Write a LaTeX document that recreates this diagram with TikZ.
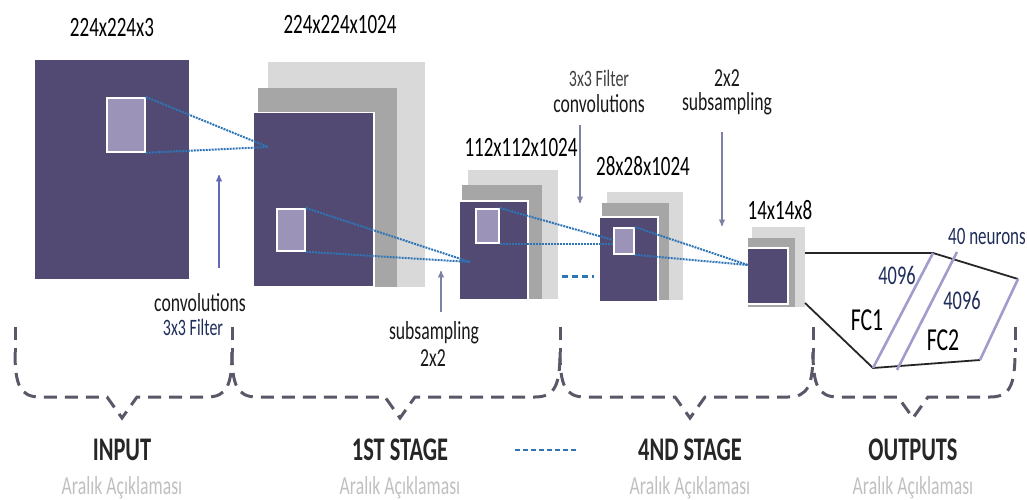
\documentclass[tikz,border=0pt]{standalone}
\usepackage{fontspec}
\setmainfont{Carlito}[FakeStretch=0.68]
\usetikzlibrary{positioning,arrows}
\definecolor{mappurple}{RGB}{82,74,114}
\definecolor{winpurple}{RGB}{156,148,184}
\definecolor{backgray}{RGB}{217,217,217}
\definecolor{midgray}{RGB}{166,166,166}
\definecolor{dotblue}{RGB}{46,117,182}
\definecolor{fcpurple}{RGB}{160,156,204}
\definecolor{bracegray}{RGB}{88,88,104}
\definecolor{subgray}{RGB}{192,192,192}
\definecolor{navytext}{RGB}{31,45,90}
\definecolor{arrowgray}{RGB}{125,130,165}

\begin{document}
\begin{tikzpicture}[x=1pt,y=-1pt,
% Feature map styles
fmap/.style={fill=mappurple,draw=white,line width=1.5pt,inner sep=0pt,
	anchor=north west},
win/.style={fill=winpurple,draw=white,line width=1.8pt,inner sep=0pt,
	anchor=north west},
backmap/.style={fill=backgray,inner sep=0pt,anchor=north west},
midmap/.style={fill=midgray,inner sep=0pt,anchor=north west},
% Label styles
dim/.style={font=\fontsize{28}{30}\selectfont,text=black},
note/.style={font=\fontsize{26}{28}\selectfont,text=black!90},
filt/.style={font=\fontsize{23.5}{26}\selectfont,text=navytext},
stage/.style={font=\bfseries\fontsize{33}{35}\selectfont,text=black!85},
sub/.style={font=\fontsize{26}{28}\selectfont,text=subgray},
% Line styles
link/.style={dotblue,line width=2pt,densely dotted},
pointer/.style={arrowgray,line width=1.3pt,-stealth'},
brace/.style={bracegray,line width=3pt,dash pattern=on 13pt off 8pt},
fcline/.style={black!85,line width=1.8pt,line join=round},
fcedge/.style={fcpurple,line width=2.6pt},
]
\useasboundingbox (0,0) rectangle (1027,500);

%% Input
\node (in_main) [fmap,draw=none,minimum width=154pt,minimum height=219pt] at (34,59) {};
\node (in_win) [win,minimum width=38pt,minimum height=54pt] at (106,97) {};
\node (in_dim) [dim] at (112,28) {224x224x3};

%% 1st stage
\node (s1_back) [backmap,minimum width=157pt,minimum height=225pt] at (268,62) {};
\node (s1_mid) [midmap,minimum width=139pt,minimum height=199pt] at (258,88) {};
\node (s1_front) [fmap,minimum width=121pt,minimum height=174pt] at (252,112) {};
\node (s1_win) [win,minimum width=28pt,minimum height=42pt] at (276,208) {};
\node (s1_dim) [dim] at (340,25) {224x224x1024};

%% 2nd map
\node (s2_back) [backmap,minimum width=90pt,minimum height=129pt] at (468,170) {};
\node (s2_mid) [midmap,minimum width=80pt,minimum height=114pt] at (462,185) {};
\node (s2_front) [fmap,minimum width=69pt,minimum height=99pt] at (458,200) {};
\node (s2_win) [win,minimum width=23pt,minimum height=34pt] at (475,208) {};
\node (s2_dim) [dim] at (521,148) {112x112x1024};

%% 4th stage
\node (s3_back) [backmap,minimum width=76pt,minimum height=108pt] at (607,192) {};
\node (s3_mid) [midmap,minimum width=67pt,minimum height=97pt] at (602,203) {};
\node (s3_front) [fmap,minimum width=59pt,minimum height=85pt] at (598,216) {};
\node (s3_win) [win,minimum width=20pt,minimum height=26pt] at (613,227) {};
\node (s3_dim) [dim] at (643,166) {28x28x1024};

\node (s4_back) [backmap,minimum width=53pt,minimum height=80pt] at (752,227) {};
\node (s4_mid) [midmap,minimum width=47pt,minimum height=69pt] at (748,238) {};
\node (s4_front) [fmap,minimum width=41pt,minimum height=56pt] at (746,247) {};
\node (s4_dim) [dim] at (780,210) {14x14x8};

%% Receptive field links
\coordinate (p1) at (268,147);
\coordinate (p2) at (470,262);
\coordinate (p3) at (613,240);
\coordinate (p4) at (748,265);
\draw [link] (in_win.north east) -- (p1);
\draw [link] (in_win.south east) -- (p1);
\draw [link] (s1_win.north east) -- (p2);
\draw [link] (s1_win.south east) -- (p2);
\draw [link] (s2_win.north east) -- (p3);
\draw [link] (s2_win.south east) -- (s3_win.south west |- s2_win.south east);
\draw [link] (s3_win.north east) -- (p4);
\draw [link] (s3_win.south east) -- (p4);
\coordinate (gap_a) at (562,276);
\coordinate (gap_b) at (594,276);
\draw [dotblue,line width=3pt,dash pattern=on 6pt off 4pt] (gap_a) -- (gap_b);

%% Operation notes
\node (conv_a) [note] at (200,303) {convolutions};
\node (filt_a) [filt] at (193,327) {3x3 Filter};
\coordinate (ar1_s) at (219,268);
\coordinate (ar1_e) at (219,175);
\draw [pointer,color=arrowgray!80!blue] (ar1_s) -- (ar1_e);

\node (samp_a) [note] at (434,333) {subsampling};
\node (size_a) [note] at (433,358) {2x2};
\coordinate (ar2_s) at (441,312);
\coordinate (ar2_e) at (441,271);
\draw [pointer] (ar2_s) -- (ar2_e);

\node (filt_b) [filt,text=black!75] at (599,78) {3x3 Filter};
\node (conv_b) [note] at (599,104) {convolutions};
\coordinate (ar3_s) at (580,125);
\coordinate (ar3_e) at (580,203);
\draw [pointer] (ar3_s) -- (ar3_e);

\node (size_b) [note] at (727,78) {2x2};
\node (samp_b) [note] at (727,104) {subsampling};
\coordinate (ar4_s) at (722,132);
\coordinate (ar4_e) at (722,226);
\draw [pointer] (ar4_s) -- (ar4_e);

%% Fully connected part
\coordinate (fc_top) at (805,253);
\coordinate (fc_bot) at (805,303);
\coordinate (fc_a) at (933,253);
\coordinate (fc_b) at (1018,279);
\coordinate (fc_c) at (980,360);
\coordinate (fc_d) at (873,368);
\coordinate (fc_e) at (897,370);
\coordinate (fc_f) at (957,252);
\draw [fcline] (fc_top) -- (fc_a) -- (fc_b);
\draw [fcline] (fc_c) -- (fc_d) -- (fc_bot);
\draw [fcedge] (fc_b) -- (fc_c);
\draw [fcedge] (fc_d) -- (fc_a);
\draw [fcedge] (fc_e) -- (fc_f);
\node (fc1_n) [filt,font=\fontsize{27}{30}\selectfont] at (897,275) {4096};
\node (fc1) [dim,font=\fontsize{32}{34}\selectfont] at (867,320) {FC1};
\node (fc2_n) [filt,font=\fontsize{27}{30}\selectfont] at (962,300) {4096};
\node (fc2) [dim,font=\fontsize{32}{34}\selectfont] at (943,340) {FC2};
\node (out_n) [filt,font=\fontsize{25}{27}\selectfont] at (987,236) {40 neurons};

%% Stage braces
\draw [brace] (15,327) -- (15,352);
\draw [brace] (232,327) -- (232,352);
\draw [brace] (560,327) -- (560,352);
\draw [brace] (813,327) -- (813,352);
\draw [brace] (1015,327) -- (1015,352);
\draw [brace] (15,352) .. controls (15,385) and (20,397) .. (40,397) -- (107,397)
	-- (122,418) -- (137,397) -- (207,397) .. controls (227,397) and (232,385) .. (232,352);
\draw [brace] (232,352) .. controls (232,385) and (237,397) .. (257,397) -- (385,397)
	-- (400,418) -- (415,397) -- (535,397) .. controls (555,397) and (560,385) .. (560,352);
\draw [brace] (560,352) .. controls (560,385) and (565,397) .. (585,397) -- (675,397)
	-- (690,418) -- (705,397) -- (788,397) .. controls (808,397) and (813,385) .. (813,352);
\draw [brace] (813,352) .. controls (813,385) and (818,397) .. (838,397) -- (898,397)
	-- (913,418) -- (928,397) -- (990,397) .. controls (1010,397) and (1015,385) .. (1015,352);

%% Stage names
\node (input) [stage] at (122,450) {INPUT};
\node (stage1) [stage] at (400,450) {1ST STAGE};
\node (stage4) [stage] at (690,450) {4ND STAGE};
\node (outputs) [stage] at (913,450) {OUTPUTS};
\draw [dotblue,line width=2pt,dash pattern=on 5pt off 3pt] (515,450) -- (578,450);
\node (input_sub) [sub] at (122,488) {Aralık Açıklaması};
\node (stage1_sub) [sub] at (400,488) {Aralık Açıklaması};
\node (stage4_sub) [sub] at (690,488) {Aralık Açıklaması};
\node (outputs_sub) [sub] at (913,488) {Aralık Açıklaması};

\end{tikzpicture}
\end{document}
